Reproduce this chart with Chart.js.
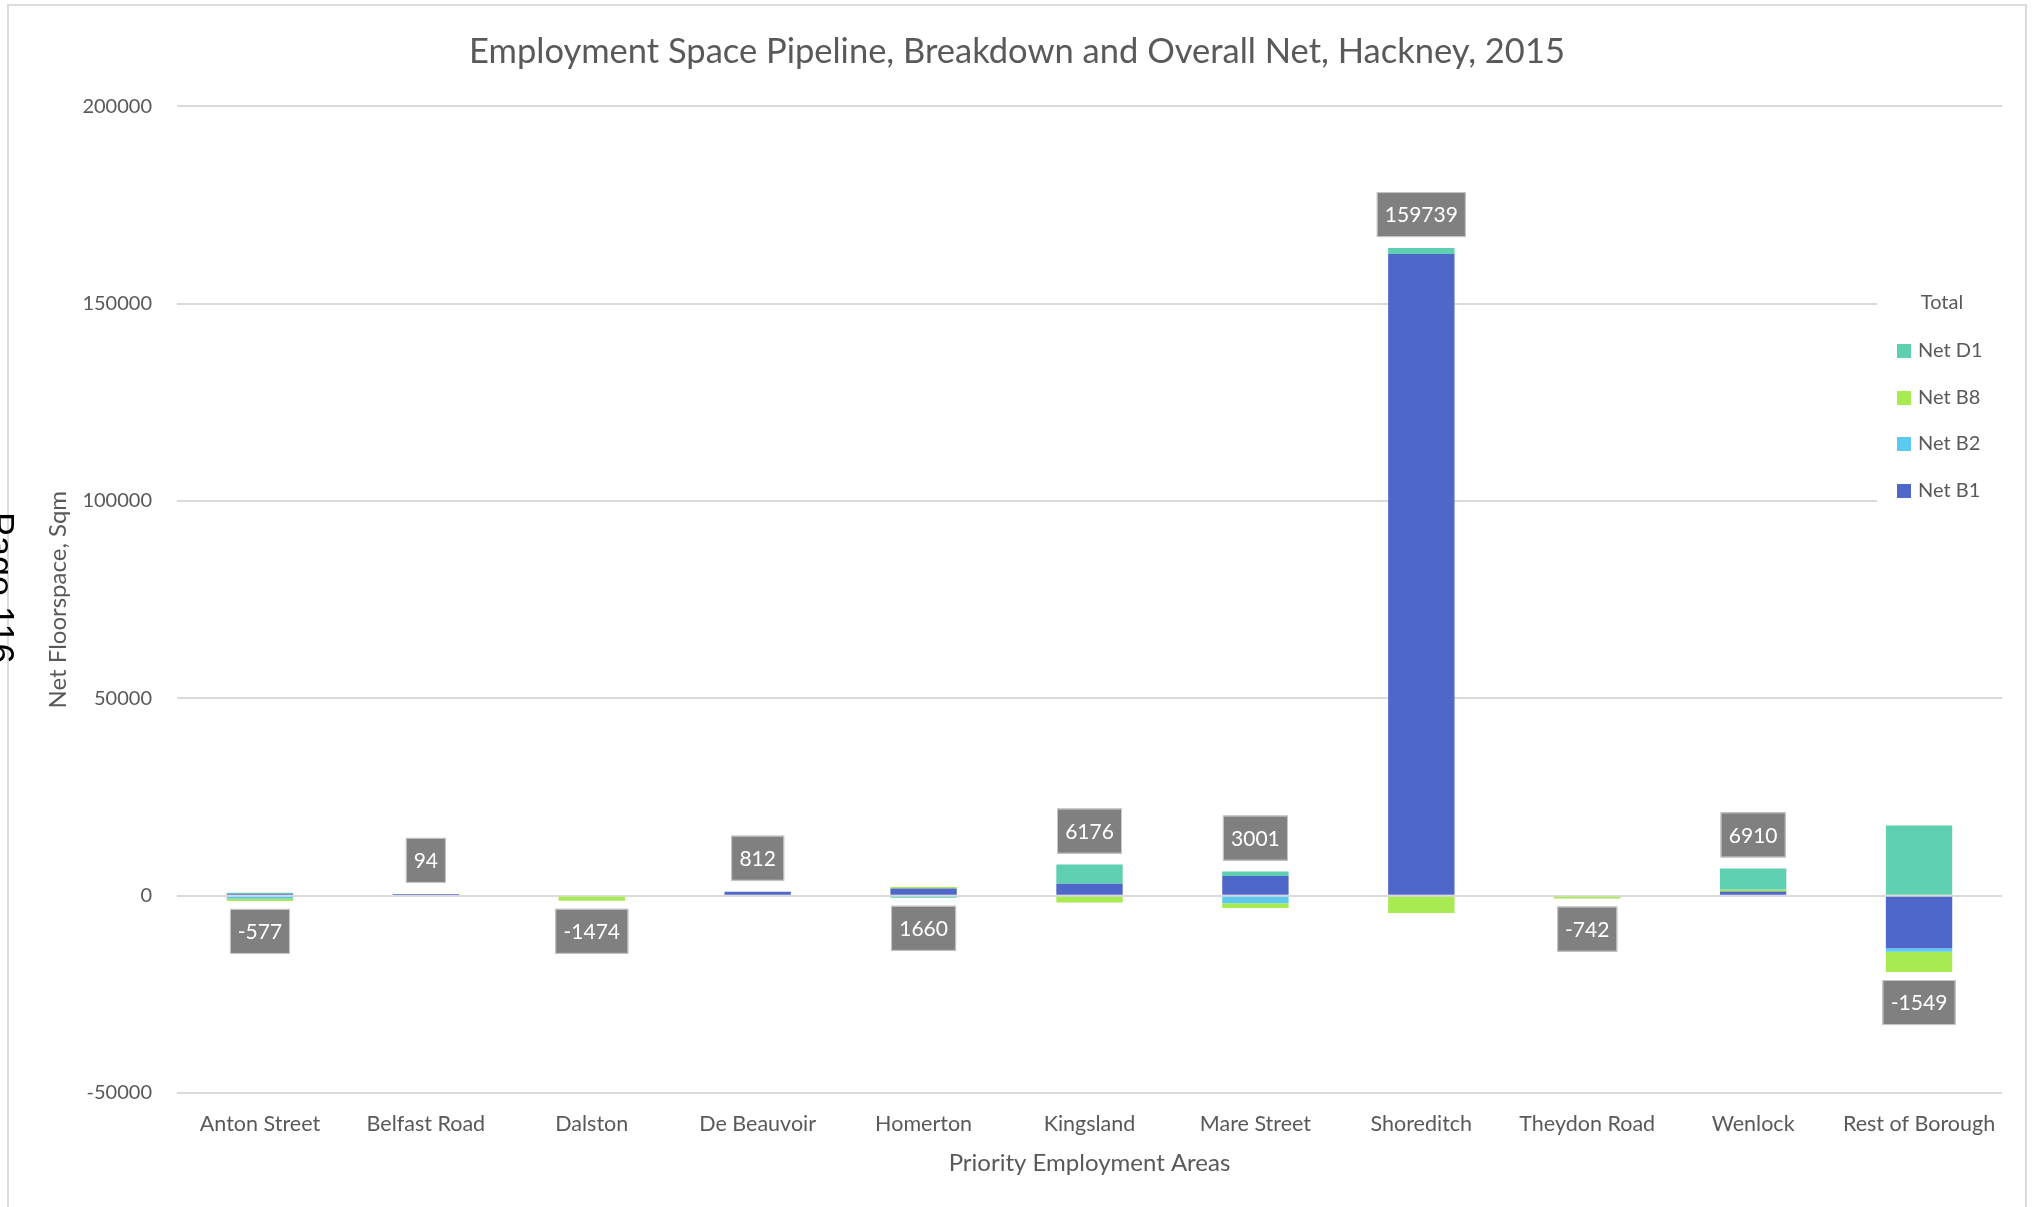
<!DOCTYPE html>
<html>
<head>
<meta charset="utf-8">
<script src="https://cdn.jsdelivr.net/npm/chart.js@4.4.0/dist/chart.umd.min.js"></script>
<style>
  html, body { margin: 0; padding: 0; background: #ffffff; overflow: hidden; }
  #wrap { position: relative; width: 2036px; height: 1207px; overflow: hidden; }
  #frame { position: absolute; left: 7px; top: 4px; width: 2020px; height: 1230px; border: 2px solid #dcdcdc; box-sizing: border-box; }
  #chart { position: absolute; left: 0; top: 0; }
  #legend { position: absolute; left: 1877px; top: 274px; width: 125px; height: 240px; background: #ffffff; font-family: Lato, sans-serif; color: #595959; }
  #legend .ttl { position: absolute; left: 0; width: 130px; text-align: center; top: 15px; font-size: 20px; line-height: 24px; }
  #legend .item { position: absolute; left: 20px; font-size: 20px; line-height: 24px; white-space: nowrap; }
  #legend .sw { display: inline-block; width: 14px; height: 14px; margin-right: 7px; vertical-align: -1px; }
  #page { position: absolute; left: 18px; top: 512px; transform: rotate(90deg); transform-origin: 0 0; font-family: "Liberation Sans", Arial, sans-serif; font-size: 36px; line-height: 36px; color: #000; white-space: nowrap; }
</style>
</head>
<body>
<div id="wrap">
  <div id="frame"></div>
  <canvas id="chart" width="2036" height="1207"></canvas>
  <div id="legend"></div>
  <div id="page">Page 116</div>
</div>
<script>
// ---- data ----
const categories = ['Anton Street', 'Belfast Road', 'Dalston', 'De Beauvoir', 'Homerton', 'Kingsland', 'Mare Street', 'Shoreditch', 'Theydon Road', 'Wenlock', 'Rest of Borough'];
const netB1 = [500, 450, 0, 1000, 1800, 3000, 5000, 162600, 0, 1060, -13350];
const netB2 = [-750, 0, 0, 0, 0, 0, -1900, 0, 0, 0, -850];
const netB8 = [-577, 0, -1300, 0, 400, -1700, -1199, -4361, -742, 450, -5149];
const netD1 = [250, 0, 0, 0, -540, 4876, 1100, 1500, 0, 5400, 17800];
const totals = [-577, 94, -1474, 812, 1660, 6176, 3001, 159739, -742, 6910, -1549];
const labelSide = ['below', 'above', 'below', 'above', 'below', 'above', 'above', 'above', 'below', 'above', 'below'];
const yTicks = [-50000, 0, 50000, 100000, 150000, 200000];

const textGray = '#595959';
Chart.defaults.font.family = 'Lato, sans-serif';
Chart.defaults.color = textGray;

const totalLabels = {
  id: 'totalLabels',
  afterDatasetsDraw(chart) {
    const { ctx, scales: { x, y } } = chart;
    ctx.save();
    ctx.font = '21px Lato, sans-serif';
    totals.forEach((t, i) => {
      let pos = 0, neg = 0;
      chart.data.datasets.forEach(ds => { const v = ds.data[i]; if (v > 0) pos += v; else neg += v; });
      const cx = x.getPixelForValue(i);
      const text = String(t);
      const w = Math.round(ctx.measureText(text).width + 16);
      const h = 45;
      const top = labelSide[i] === 'above' ? y.getPixelForValue(pos) - 11 - h : y.getPixelForValue(neg) + 8;
      ctx.fillStyle = '#808080';
      ctx.fillRect(cx - w / 2, top, w, h);
      ctx.strokeStyle = '#c9c9c9';
      ctx.lineWidth = 1;
      ctx.strokeRect(cx - w / 2 + 0.5, top + 0.5, w - 1, h - 1);
      ctx.fillStyle = '#ffffff';
      ctx.textAlign = 'center';
      ctx.textBaseline = 'middle';
      ctx.fillText(text, cx, top + h / 2 + 1);
    });
    ctx.restore();
  }
};

const ds = (label, data, color) => ({ label, data, backgroundColor: color, borderWidth: 0, barPercentage: 0.4, categoryPercentage: 1.0, stack: 's' });

const chart = new Chart(document.getElementById('chart'), {
  type: 'bar',
  data: {
    labels: categories,
    datasets: [
      ds('Net B1', netB1, '#4e67c8'),
      ds('Net B2', netB2, '#5bc9f0'),
      ds('Net B8', netB8, '#a7ea52'),
      ds('Net D1', netD1, '#5ecfb1')
    ]
  },
  options: {
    responsive: false,
    animation: false,
    devicePixelRatio: 1,
    layout: { padding: { left: 32, right: 34, top: 0, bottom: 0 } },
    plugins: {
      legend: { display: false },
      tooltip: { enabled: false },
      title: {
        display: true,
        text: 'Employment Space Pipeline, Breakdown and Overall Net, Hackney, 2015',
        color: textGray,
        font: { size: 34.5, weight: 'normal', lineHeight: 1.2 },
        padding: { top: 31, bottom: 34 }
      }
    },
    scales: {
      x: {
        stacked: true,
        grid: { display: false },
        border: { display: false },
        ticks: { color: textGray, font: { size: 21.5, lineHeight: 1.2 }, padding: 10, maxRotation: 0, autoSkip: false },
        title: { display: true, text: 'Priority Employment Areas', color: textGray, font: { size: 24, lineHeight: 1.2 }, padding: { top: 0, bottom: 29 } },
        afterFit(s) { s.height = 114; }
      },
      y: {
        stacked: true,
        min: -50000,
        max: 200000,
        afterBuildTicks(s) { s.ticks = yTicks.map(v => ({ value: v })); },
        grid: { color: '#dadada', lineWidth: 2, drawTicks: false },
        border: { display: false },
        ticks: { color: textGray, font: { size: 20, lineHeight: 1.2 }, padding: 25, callback: v => String(v) },
        title: { display: true, text: 'Net Floorspace, Sqm', color: textGray, font: { size: 24, lineHeight: 1.2 }, padding: { top: 12, bottom: 0 } },
        afterFit(s) { s.width = 145; }
      }
    }
  },
  plugins: [totalLabels]
});

// legend (reversed order, as in the reference)
const legend = document.getElementById('legend');
const t = document.createElement('div');
t.className = 'ttl';
t.textContent = 'Total';
legend.appendChild(t);
chart.data.datasets.slice().reverse().forEach((d, k) => {
  const it = document.createElement('div');
  it.className = 'item';
  it.style.top = (63 + k * 46.5) + 'px';
  const sw = document.createElement('span');
  sw.className = 'sw';
  sw.style.background = d.backgroundColor;
  it.appendChild(sw);
  it.appendChild(document.createTextNode(d.label));
  legend.appendChild(it);
});
</script>
</body>
</html>
